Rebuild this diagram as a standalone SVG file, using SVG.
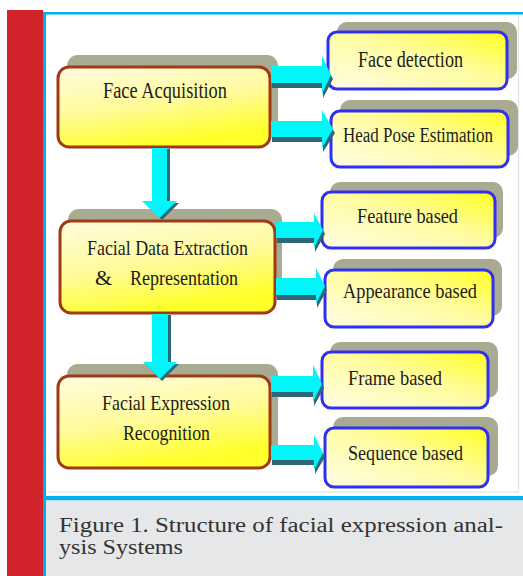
<svg xmlns="http://www.w3.org/2000/svg" width="523" height="576" viewBox="0 0 523 576">
  <defs>
    <linearGradient id="gLeft" x1="0" y1="0" x2="0.35" y2="1">
      <stop offset="0" stop-color="#fffce0"/>
      <stop offset="0.55" stop-color="#fffb9a"/>
      <stop offset="1" stop-color="#ffff2a"/>
    </linearGradient>
    <linearGradient id="gRight" x1="0" y1="1" x2="1" y2="0">
      <stop offset="0" stop-color="#fffde6"/>
      <stop offset="0.55" stop-color="#fffca0"/>
      <stop offset="1" stop-color="#ffff20"/>
    </linearGradient>
    <style>
      .shadow { fill: #a8aa92; }
      .lbox { fill: url(#gLeft); stroke: #a03a16; stroke-width: 3; }
      .rbox { fill: url(#gRight); stroke: #3030f0; stroke-width: 3; }
      .label { font-family: 'Liberation Serif', 'Times New Roman', Times, serif; fill: #1c1c1c; text-anchor: middle; }
      .arr { fill: #00f6f8; }
      .arrsh { fill: #2c6878; }
      .cap { font-family: 'Liberation Serif', 'Times New Roman', Times, serif; font-size: 20px; fill: #333333; }
    </style>
  </defs>

  <!-- page frame -->
  <rect x="0" y="0" width="523" height="576" fill="#ffffff"/>
  <rect x="7" y="10" width="36" height="566" fill="#d2232a"/>
  <rect x="43" y="12" width="480" height="2.5" fill="#00aeef"/>
  <rect x="43" y="12" width="3" height="564" fill="#00aeef"/>
  <line x1="47" y1="492" x2="519" y2="492" stroke="#dcdcdc" stroke-width="1.2"/>
  <line x1="518.5" y1="15" x2="518.5" y2="492" stroke="#e2e2e2" stroke-width="1.2"/>
  <rect x="46" y="496" width="477" height="4.5" fill="#00aeef"/>
  <rect x="46" y="500.5" width="477" height="75.5" fill="#e6e7e8"/>

  <!-- drop shadows -->
  <g id="shadows">
    <rect class="shadow" x="67" y="55" width="211" height="80" rx="11"/>
    <rect class="shadow" x="68" y="209" width="214" height="92" rx="11"/>
    <rect class="shadow" x="67" y="364" width="211" height="92" rx="11"/>
    <rect class="shadow" x="337" y="22" width="180" height="57" rx="10"/>
    <rect class="shadow" x="340" y="100" width="178" height="56" rx="10"/>
    <rect class="shadow" x="330" y="182" width="173" height="56" rx="10"/>
    <rect class="shadow" x="333" y="259" width="169" height="57" rx="10"/>
    <rect class="shadow" x="330" y="342" width="168" height="56" rx="10"/>
    <rect class="shadow" x="333" y="417" width="165" height="59" rx="10"/>
  </g>

  <!-- main stages -->
  <g id="face-acquisition">
    <rect class="lbox" x="58" y="67" width="212" height="80" rx="11"/>
    <text class="label" x="165" y="98" font-size="23" textLength="124" lengthAdjust="spacingAndGlyphs">Face Acquisition</text>
  </g>
  <g id="facial-data-extraction">
    <rect class="lbox" x="60" y="221" width="215" height="92" rx="11"/>
    <text class="label" x="167.5" y="255" font-size="22" textLength="161" lengthAdjust="spacingAndGlyphs">Facial Data Extraction</text>
    <text class="label" y="285" font-size="22" style="text-anchor:start"><tspan x="95">&amp;</tspan><tspan x="130" textLength="108" lengthAdjust="spacingAndGlyphs">Representation</tspan></text>
  </g>
  <g id="facial-expression-recognition">
    <rect class="lbox" x="58" y="376" width="212" height="92" rx="11"/>
    <text class="label" x="166" y="410" font-size="22" textLength="128" lengthAdjust="spacingAndGlyphs">Facial Expression</text>
    <text class="label" x="166.5" y="440" font-size="22" textLength="87" lengthAdjust="spacingAndGlyphs">Recognition</text>
  </g>

  <!-- sub-categories -->
  <g id="face-detection">
    <rect class="rbox" x="328" y="32" width="179" height="57" rx="9"/>
    <text class="label" x="410.5" y="67" font-size="23" textLength="105" lengthAdjust="spacingAndGlyphs">Face detection</text>
  </g>
  <g id="head-pose-estimation">
    <rect class="rbox" x="331" y="111" width="177" height="56" rx="9"/>
    <text class="label" x="418" y="142" font-size="20.5" textLength="150" lengthAdjust="spacingAndGlyphs">Head Pose Estimation</text>
  </g>
  <g id="feature-based">
    <rect class="rbox" x="322" y="192" width="173" height="56" rx="9"/>
    <text class="label" x="407.5" y="223" font-size="22" textLength="101" lengthAdjust="spacingAndGlyphs">Feature based</text>
  </g>
  <g id="appearance-based">
    <rect class="rbox" x="325" y="270" width="168" height="57" rx="9"/>
    <text class="label" x="410" y="298" font-size="22" textLength="134" lengthAdjust="spacingAndGlyphs">Appearance based</text>
  </g>
  <g id="frame-based">
    <rect class="rbox" x="322" y="352" width="166" height="56" rx="9"/>
    <text class="label" x="395" y="385" font-size="22" textLength="94" lengthAdjust="spacingAndGlyphs">Frame based</text>
  </g>
  <g id="sequence-based">
    <rect class="rbox" x="325" y="428" width="163" height="59" rx="9"/>
    <text class="label" x="405.5" y="460" font-size="22" textLength="115" lengthAdjust="spacingAndGlyphs">Sequence based</text>
  </g>

  <!-- block arrows -->
  <g id="connectors">
    <!-- Face Acquisition -> Face detection -->
    <polygon class="arrsh" points="272,70 323,70 323,60 333,79 323,98 323,88 272,88"/>
    <polygon class="arr" points="271,66 322,66 322,56 331,75 322,94 322,83 271,83"/>
    <!-- Face Acquisition -> Head Pose Estimation -->
    <polygon class="arrsh" points="272,125 323,125 323,114 335,133 323,152 323,142 272,142"/>
    <polygon class="arr" points="271,121 322,121 322,110 333,129 322,148 322,137 271,137"/>
    <!-- Facial Data Extraction -> Feature based -->
    <polygon class="arrsh" points="277,226 315,226 315,217 325,234 315,252 315,243 277,243"/>
    <polygon class="arr" points="276,222 314,222 314,213 323,230 314,248 314,238 276,238"/>
    <!-- Facial Data Extraction -> Appearance based -->
    <polygon class="arrsh" points="277,282 317,282 317,272 327,290 317,308 317,300 277,300"/>
    <polygon class="arr" points="276,278 316,278 316,268 325,286 316,304 316,295 276,295"/>
    <!-- Facial Expression Recognition -> Frame based -->
    <polygon class="arrsh" points="272,380 314,380 314,369 324,388 314,406 314,397 272,397"/>
    <polygon class="arr" points="271,376 313,376 313,365 322,384 313,402 313,392 271,392"/>
    <!-- Facial Expression Recognition -> Sequence based -->
    <polygon class="arrsh" points="272,449 315,449 315,439 325,457 315,474 315,465 272,465"/>
    <polygon class="arr" points="271,445 314,445 314,435 323,453 314,470 314,460 271,460"/>
    <!-- Face Acquisition -> Facial Data Extraction -->
    <polygon class="arrsh" points="155,149 170,149 170,203 179,203 162,220 145,203 155,203"/>
    <polygon class="arr" points="152,148 167,148 167,201 177,201 159.5,218 142,201 152,201"/>
    <!-- Facial Data Extraction -> Facial Expression Recognition -->
    <polygon class="arrsh" points="155,315 171,315 171,364 179,364 162,381 145,364 155,364"/>
    <polygon class="arr" points="152,314 168,314 168,362 177,362 160,379 143,362 152,362"/>
  </g>

  <!-- caption -->
  <text class="cap" x="59" y="532" textLength="444" lengthAdjust="spacingAndGlyphs">Figure 1. Structure of facial expression anal-</text>
  <text class="cap" x="59" y="554" textLength="124" lengthAdjust="spacingAndGlyphs">ysis Systems</text>
</svg>
